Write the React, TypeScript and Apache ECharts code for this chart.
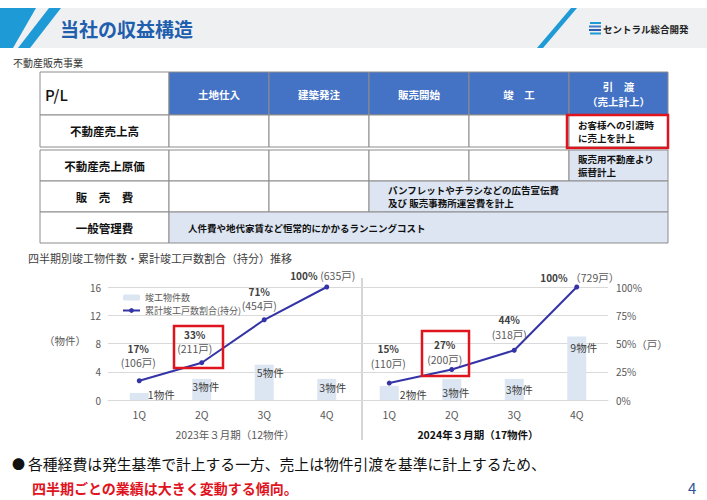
import React, { useEffect, useRef } from "react";
import * as echarts from "echarts";

// ---- data ----
const quarters = ["1Q", "2Q", "3Q", "4Q"];
const completedFY23 = [1, 3, 5, 3];
const completedFY24 = [2, 3, 3, 9];
const cumPctFY23 = [17, 33, 71, 100];
const cumPctFY24 = [15, 27, 44, 100];
const cumUnitsFY23 = [106, 211, 454, 635];
const cumUnitsFY24 = [110, 200, 318, 729];
const periodLabels = ["2023年３月期（12物件）", "2024年３月期（17物件）"];
const axisUnitNames = ["（物件）", "（戸）"];
const legendNames = ["竣工物件数", "累計竣工戸数割合(持分)"];
const tableHeaders = ["土地仕入", "建築発注", "販売開始", "竣　工", "引　渡\n（売上計上）"];
const tableRows = ["不動産売上高", "不動産売上原価", "販　売　費", "一般管理費"];
const tableNotes = [
  "お客様への引渡時\nに売上を計上",
  "販売用不動産より\n振替計上",
  "パンフレットやチラシなどの広告宣伝費\n及び 販売事務所運営費を計上",
  "人件費や地代家賃など恒常的にかかるランニングコスト",
];

// ---- styling / layout helpers (not data) ----
const JP = '"Noto Sans CJK JP", "Noto Sans", sans-serif';
const barLabelOff23 = [[22, -9], [4, -3], [6, -2], [6, -2]];
const barLabelOff24 = [[24, -2], [4, 3], [5, 0], [7, 1]];
const lineLabelOff23 = [[-1, -3], [-7, 1], [-5, 1], [-4, 3]];
const lineLabelOff24 = [[-1, -5], [-7, 5], [-5, -1], [3, 5]];

function barSeries(vals: number[], offs: number[][], xi: number, yi: number) {
  return {
    type: "bar",
    name: legendNames[0],
    xAxisIndex: xi,
    yAxisIndex: yi,
    barWidth: 19,
    itemStyle: { color: "#DCE6F2" },
    data: vals.map((v, i) => ({
      value: v,
      label: {
        show: true,
        position: "insideTop",
        offset: offs[i],
        formatter: v + "物件",
        fontSize: 10.5,
        color: "#404040",
        fontFamily: JP,
      },
    })),
  };
}

function lineSeries(pct: number[], units: number[], offs: number[][], xi: number, yi: number, full: boolean) {
  return {
    type: "line",
    name: legendNames[1],
    xAxisIndex: xi,
    yAxisIndex: yi,
    symbol: "circle",
    symbolSize: 5,
    lineStyle: { color: "#3434A6", width: 2 },
    itemStyle: { color: "#3434A6" },
    data: pct.map((v, i) => ({
      value: v,
      label: {
        show: true,
        position: "top",
        offset: offs[i],
        formatter:
          i === pct.length - 1
            ? `{p|${v}%} {u|${full ? "（" + units[i] + "戸）" : "(" + units[i] + "戸)"}}`
            : `{p|${v}%}\n{u|(${units[i]}戸)}`,
        rich: {
          p: { fontSize: 10, fontWeight: "bold", color: "#404040", fontFamily: JP, lineHeight: 14 },
          u: { fontSize: 10.5, color: "#595959", fontFamily: JP, lineHeight: 15 },
        },
      },
    })),
  };
}

function buildTable(): any[] {
  const els: any[] = [];
  const colX = [40, 169, 269, 369, 469, 569, 668];
  const border = "#8c8c8c";
  const lightBlue = "#DCE5F1";
  const rowY = [[115, 147], [150, 181], [181, 212], [212, 243]];
  els.push({ type: "rect", shape: { x: 40, y: 72, width: 129, height: 43 }, style: { fill: "#fff", stroke: border, lineWidth: 1 } });
  els.push({ type: "text", style: { text: "P/L", x: 45, y: 94, font: `500 15px ${JP}`, fill: "#111", textVerticalAlign: "middle" } });
  for (let c = 1; c <= 5; c++) {
    els.push({ type: "rect", shape: { x: colX[c], y: 72, width: colX[c + 1] - colX[c], height: 43 }, style: { fill: "#4472C4", stroke: border, lineWidth: 1 } });
    els.push({
      type: "text",
      style: {
        text: tableHeaders[c - 1],
        x: (colX[c] + colX[c + 1]) / 2,
        y: 94,
        font: `bold 10.5px ${JP}`,
        fill: "#fff",
        textAlign: "center",
        textVerticalAlign: "middle",
        lineHeight: 15,
      },
    });
  }
  tableRows.forEach((name, r) => {
    const [y0, y1] = rowY[r];
    els.push({ type: "rect", shape: { x: 40, y: y0, width: 129, height: y1 - y0 }, style: { fill: "#fff", stroke: border, lineWidth: 1 } });
    els.push({
      type: "text",
      style: { text: name, x: 104.5, y: (y0 + y1) / 2, font: `bold 11.5px ${JP}`, fill: "#111", textAlign: "center", textVerticalAlign: "middle" },
    });
    const whiteUntil = r <= 1 ? 5 : r === 2 ? 3 : 1;
    for (let c = 1; c < whiteUntil; c++) {
      els.push({ type: "rect", shape: { x: colX[c], y: y0, width: colX[c + 1] - colX[c], height: y1 - y0 }, style: { fill: "#fff", stroke: border, lineWidth: 1 } });
    }
    const bx = colX[whiteUntil];
    if (r === 0) {
      els.push({ type: "rect", shape: { x: bx, y: y0, width: 668 - bx, height: y1 - y0 }, style: { fill: "#fff", stroke: border, lineWidth: 1 } });
      els.push({ type: "rect", shape: { x: bx - 2, y: y0, width: 668 - bx + 2, height: y1 - y0 + 1 }, style: { fill: "none", stroke: "#E0141E", lineWidth: 2.5 } });
    } else {
      els.push({ type: "rect", shape: { x: bx, y: y0, width: 668 - bx, height: y1 - y0 }, style: { fill: lightBlue, stroke: border, lineWidth: 1 } });
    }
    const tx = r === 0 || r === 1 ? 578 : bx + 19;
    els.push({
      type: "text",
      style: { text: tableNotes[r], x: tx, y: (y0 + y1) / 2, font: `bold 9.5px ${JP}`, fill: "#111", textVerticalAlign: "middle", lineHeight: 13 },
    });
  });
  return els;
}

export default function App() {
  const ref = useRef<HTMLDivElement>(null);
  useEffect(() => {
    document.body.style.margin = "0";
    const chart = echarts.init(ref.current!, null, { renderer: "svg" });
    const axisLabelStyle = { fontSize: 10, color: "#595959", fontFamily: JP };
    const option: any = {
      animation: false,
      backgroundColor: "#fff",
      textStyle: { fontFamily: JP },
      grid: [
        { left: 108, top: 287, width: 250, height: 113 },
        { left: 358, top: 287, width: 250, height: 113 },
      ],
      legend: {
        orient: "vertical",
        left: 117,
        top: 288,
        itemWidth: 17,
        itemHeight: 6,
        itemGap: 4,
        data: legendNames,
        textStyle: { fontSize: 9, color: "#595959", fontFamily: JP },
      },
      xAxis: [0, 1].map((g) => ({
        type: "category",
        gridIndex: g,
        data: quarters,
        axisTick: { show: false },
        axisLine: { lineStyle: { color: "#d9d9d9" } },
        axisLabel: { ...axisLabelStyle, fontSize: 10.5, margin: 9 },
      })),
      yAxis: [
        {
          type: "value",
          gridIndex: 0,
          min: 0,
          max: 16,
          interval: 4,
          position: "left",
          axisLabel: { ...axisLabelStyle, margin: 7 },
          splitLine: { lineStyle: { color: "#d9d9d9" } },
        },
        { type: "value", gridIndex: 0, min: 0, max: 100, show: false },
        { type: "value", gridIndex: 1, min: 0, max: 16, show: false },
        {
          type: "value",
          gridIndex: 1,
          min: 0,
          max: 100,
          interval: 25,
          position: "right",
          axisLabel: { ...axisLabelStyle, margin: 8, formatter: "{value}%" },
          splitLine: { lineStyle: { color: "#d9d9d9" } },
        },
      ],
      series: [
        barSeries(completedFY23, barLabelOff23, 0, 0),
        lineSeries(cumPctFY23, cumUnitsFY23, lineLabelOff23, 0, 1, false),
        barSeries(completedFY24, barLabelOff24, 1, 2),
        lineSeries(cumPctFY24, cumUnitsFY24, lineLabelOff24, 1, 3, true),
      ],
      graphic: [
        { type: "rect", shape: { x: 0, y: 8, width: 707, height: 40 }, style: { fill: "#EEF0F2" } },
        { type: "polygon", shape: { points: [[0, 8], [36, 8], [13, 48], [0, 48]] }, style: { fill: "#1E9AD6" } },
        { type: "polygon", shape: { points: [[49, 8], [61, 8], [30, 48], [18, 48]] }, style: { fill: "#1E9AD6" } },
        { type: "polygon", shape: { points: [[571, 8], [577, 8], [543, 48], [537, 48]] }, style: { fill: "#1E9AD6" } },
        { type: "text", style: { text: "当社の収益構造", x: 60, y: 28, font: `bold 19px ${JP}`, fill: "#1F5FAD", textVerticalAlign: "middle" } },
        { type: "rect", shape: { x: 590, y: 22, width: 11, height: 2 }, style: { fill: "#1E9AD6" } },
        { type: "rect", shape: { x: 589, y: 25.5, width: 12, height: 2 }, style: { fill: "#3A7FC8" } },
        { type: "rect", shape: { x: 589, y: 29, width: 12, height: 2 }, style: { fill: "#2E5FAE" } },
        { type: "rect", shape: { x: 590, y: 32.5, width: 11, height: 2 }, style: { fill: "#1E9AD6" } },
        { type: "text", style: { text: "セントラル総合開発", x: 603, y: 29, font: `bold 9.5px ${JP}`, fill: "#222", textVerticalAlign: "middle" } },
        { type: "text", style: { text: "不動産販売事業", x: 13, y: 62, font: `10px ${JP}`, fill: "#333", textVerticalAlign: "middle" } },
        ...buildTable(),
        { type: "text", style: { text: "四半期別竣工物件数・累計竣工戸数割合（持分）推移", x: 28, y: 258, font: `11px ${JP}`, fill: "#404040", textVerticalAlign: "middle" } },
        { type: "text", style: { text: axisUnitNames[0], x: 65, y: 340, font: `10.5px ${JP}`, fill: "#595959", textAlign: "center", textVerticalAlign: "middle" } },
        { type: "text", style: { text: axisUnitNames[1], x: 652, y: 344, font: `10.5px ${JP}`, fill: "#595959", textAlign: "center", textVerticalAlign: "middle" } },
        { type: "line", shape: { x1: 362, y1: 278, x2: 362, y2: 440 }, style: { stroke: "#c8c8c8", lineWidth: 1.5 } },
        { type: "rect", shape: { x: 174, y: 326, width: 49, height: 42 }, style: { fill: "none", stroke: "#E0141E", lineWidth: 2.5 }, z: 100 },
        { type: "rect", shape: { x: 422, y: 331, width: 47, height: 45 }, style: { fill: "none", stroke: "#E0141E", lineWidth: 2.5 }, z: 100 },
        { type: "text", style: { text: periodLabels[0], x: 235, y: 434, font: `10.5px ${JP}`, fill: "#595959", textAlign: "center", textVerticalAlign: "middle" } },
        { type: "text", style: { text: periodLabels[1], x: 478, y: 434, font: `bold 10.5px ${JP}`, fill: "#111", textAlign: "center", textVerticalAlign: "middle" } },
        { type: "text", style: { text: "●", x: 12, y: 463, font: `13px ${JP}`, fill: "#111", textVerticalAlign: "middle" } },
        { type: "text", style: { text: "各種経費は発生基準で計上する一方、売上は物件引渡を基準に計上するため、", x: 28, y: 463, font: `14.8px ${JP}`, fill: "#111", textVerticalAlign: "middle" } },
        { type: "text", style: { text: "四半期ごとの業績は大きく変動する傾向。", x: 32, y: 488, font: `bold 14px ${JP}`, fill: "#E0141E", textVerticalAlign: "middle" } },
        { type: "text", style: { text: "4", x: 688, y: 487, font: `15px ${JP}`, fill: "#2F5597", textVerticalAlign: "middle" } },
      ],
    };
    chart.setOption(option);
    return () => chart.dispose();
  }, []);
  return <div ref={ref} style={{ width: 707, height: 500 }} />;
}
